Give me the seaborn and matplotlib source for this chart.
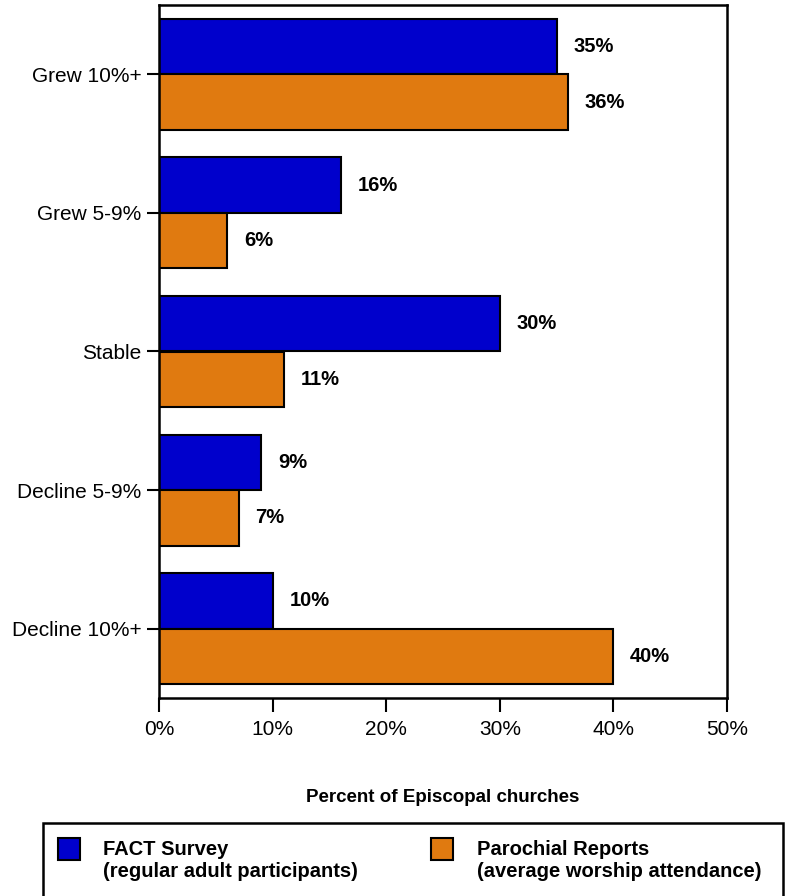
import pandas as pd
import matplotlib
matplotlib.use("Agg")
import matplotlib.pyplot as plt
from matplotlib.patches import Rectangle
import seaborn as sns

sns.set_style("white")
plt.rcParams["font.family"] = ["Liberation Sans", "DejaVu Sans"]
plt.rcParams.update({"text.color": "black", "axes.labelcolor": "black",
                     "xtick.color": "black", "ytick.color": "black"})

# ---------- data ---------------------------------------------------------
categories = ["Grew 10%+", "Grew 5-9%", "Stable", "Decline 5-9%", "Decline 10%+"]
fact_survey = [35, 16, 30, 9, 10]
parochial = [36, 6, 11, 7, 40]
series = ["FACT Survey", "Parochial Reports"]
series_sub = ["(regular adult participants)", "(average worship attendance)"]
colors = ["#0000CC", "#E07A10"]
x_ticks = [0, 10, 20, 30, 40, 50]

df = pd.DataFrame({
    "category": categories * 2,
    "series": [series[0]] * len(categories) + [series[1]] * len(categories),
    "value": fact_survey + parochial,
})

# ---------- figure -------------------------------------------------------
fig = plt.figure(figsize=(7.94, 8.96), dpi=100)
W, H = 794, 896
ax = fig.add_axes([159 / W, 1 - 698 / H, 568 / W, 693 / H])

sns.barplot(data=df, y="category", x="value", hue="series", order=categories,
            hue_order=series, palette=colors, saturation=1, orient="h", width=0.8,
            edgecolor="black", linewidth=1.5, legend=False, ax=ax)

for cont in ax.containers:
    ax.bar_label(cont, labels=[f"{v:.0f}%" for v in cont.datavalues],
                 padding=12, fontsize=14.5, fontweight="bold", color="black")

ax.set_xlim(0, 50)
ax.set_ylim(4.5, -0.5)
ax.set_xticks(x_ticks)
ax.set_xticklabels([f"{t}%" for t in x_ticks], fontsize=15)
ax.tick_params(axis="y", labelsize=15, length=9, width=1.5, direction="out", left=True)
ax.tick_params(axis="x", length=10, width=1.5, direction="out", bottom=True, pad=6)
ax.set_ylabel("")
ax.set_xlabel("Percent of Episcopal churches", fontsize=13.5, fontweight="bold", labelpad=36)
for sp in ax.spines.values():
    sp.set_visible(True)
    sp.set_color("black")
    sp.set_linewidth(1.8)

# ---------- legend box ---------------------------------------------------
fig.add_artist(Rectangle((43 / W, -0.05), (783 - 43) / W, 0.05 + (1 - 823 / H),
                         transform=fig.transFigure, fill=False,
                         edgecolor="black", linewidth=1.8))
sq_x = [58, 431]
txt_x = [103, 477]
for i in range(2):
    fig.add_artist(Rectangle((sq_x[i] / W, 1 - 860 / H), 22 / W, 22 / H,
                             transform=fig.transFigure, facecolor=colors[i],
                             edgecolor="black", linewidth=1.5))
    fig.text(txt_x[i] / W, 1 - 849 / H, series[i], fontsize=14.5,
             fontweight="bold", va="center", ha="left")
    fig.text(txt_x[i] / W, 1 - 871 / H, series_sub[i], fontsize=14.5,
             fontweight="bold", va="center", ha="left")

fig.savefig("out.png", dpi=100)
